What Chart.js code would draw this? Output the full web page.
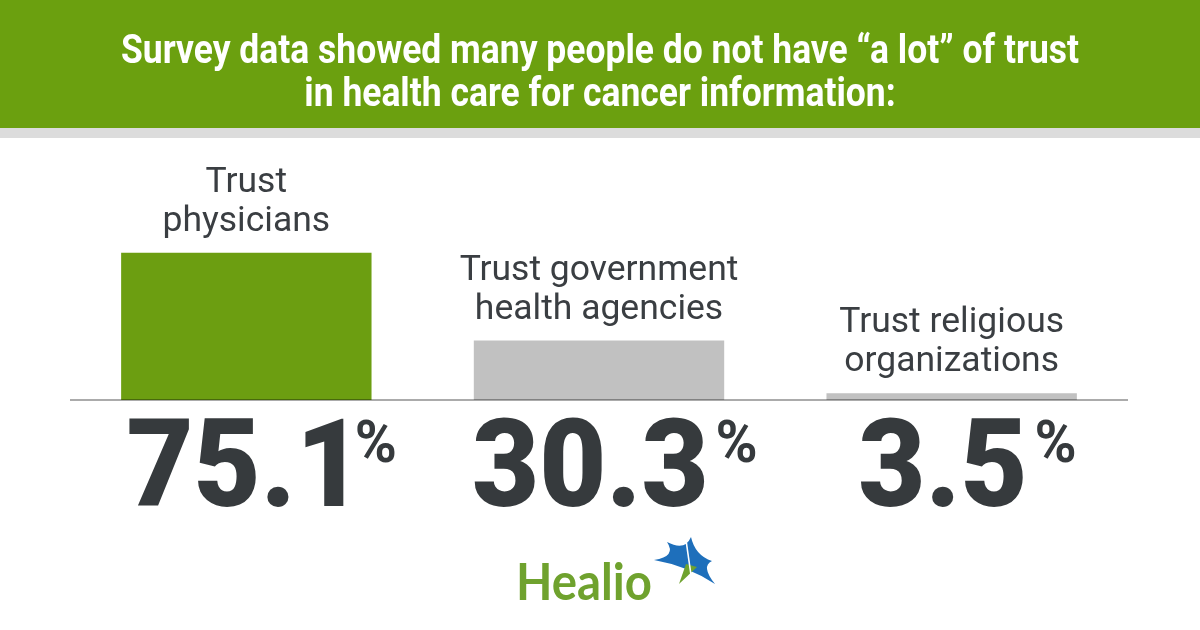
<!DOCTYPE html>
<html>
<head>
<meta charset="utf-8">
<script src="https://cdn.jsdelivr.net/npm/chart.js@4/dist/chart.umd.min.js"></script>
<style>
  html, body { margin: 0; padding: 0; background: #fff; }
  #wrap { width: 1200px; height: 630px; }
</style>
</head>
<body>
<div id="wrap"><canvas id="grafico" width="1200" height="630"></canvas></div>
<script>
// datos
const categorias = [["Trust", "physicians"], ["Trust government", "health agencies"], ["Trust religious", "organizations"]];
const valores = [75.1, 30.3, 3.5];
const titulo = ["Survey data showed many people do not have \u201ca lot\u201d of trust", "in health care for cancer information:"];

const VERDE = "#6c9e11";
const GRIS = "#c1c1c1";
const TEXTO = "#3a3e42";

const decoracion = {
  id: "decoracion",
  beforeDraw(chart) {
    const ctx = chart.ctx;
    ctx.save();
    ctx.fillStyle = "#fff";
    ctx.fillRect(0, 0, 1200, 630);
    // cabecera
    ctx.fillStyle = "#6ba00f";
    ctx.fillRect(0, 0, 1200, 128);
    ctx.fillStyle = "#dcdcdc";
    ctx.fillRect(0, 128, 1200, 10);
    ctx.fillStyle = "#fff";
    ctx.font = "bold 40px Roboto";
    ctx.textAlign = "center";
    const sx = 958 / ctx.measureText(titulo[0]).width;
    [63, 106].forEach((y, i) => {
      ctx.save();
      ctx.translate(600, y);
      ctx.scale(sx, 1);
      ctx.fillText(titulo[i], 0, 0);
      ctx.restore();
    });
    ctx.restore();
  },
  afterDatasetsDraw(chart) {
    const ctx = chart.ctx;
    const area = chart.chartArea;
    const y0 = chart.scales.y.getPixelForValue(0);
    const barras = chart.getDatasetMeta(0).data;
    ctx.save();
    // linea base
    ctx.strokeStyle = "rgba(0,0,0,0.33)";
    ctx.lineWidth = 2;
    ctx.beginPath();
    ctx.moveTo(area.left, y0);
    ctx.lineTo(area.right, y0);
    ctx.stroke();

    barras.forEach((bar, i) => {
      // etiquetas encima
      ctx.fillStyle = TEXTO;
      ctx.font = "35.5px Roboto";
      ctx.textAlign = "center";
      ctx.textBaseline = "alphabetic";
      const lineas = categorias[i];
      lineas.forEach((l, j) => {
        const y = bar.y - 22 - (lineas.length - 1 - j) * 39;
        ctx.fillText(l, bar.x, y);
      });
      // numero grande, centrado por la tinta
      const txt = valores[i].toFixed(1);
      ctx.save();
      ctx.translate(bar.x - 10, y0 + 106);
      ctx.scale(0.95, 1);
      ctx.font = "900 122px Roboto";
      ctx.textAlign = "left";
      ctx.fillStyle = "#363a3d";
      const m = ctx.measureText(txt);
      const x0 = (m.actualBoundingBoxLeft - m.actualBoundingBoxRight) / 2;
      ctx.fillText(txt, x0, 0);
      ctx.font = "bold 60px Roboto";
      ctx.fillText("%", x0 + m.actualBoundingBoxRight + 12, -44);
      ctx.restore();
    });

    // logo
    ctx.fillStyle = "#6fa22e";
    ctx.font = "bold 52px Lato";
    ctx.textAlign = "left";
    const lw = ctx.measureText("Healio").width;
    ctx.save();
    ctx.translate(516, 600);
    ctx.scale(136 / lw, 1);
    ctx.fillText("Healio", 0, 0);
    ctx.restore();
    // estrella
    const cx = 690, cy = 561;
    const puntas = [[654, 560], [667, 542], [691, 537], [712, 561], [715, 584]];
    ctx.fillStyle = "#1e6fbb";
    ctx.beginPath();
    ctx.moveTo(puntas[0][0], puntas[0][1]);
    for (let k = 1; k <= puntas.length; k++) {
      const p = puntas[k % puntas.length];
      const q = puntas[k - 1];
      const mx = (p[0] + q[0]) / 2, my = (p[1] + q[1]) / 2;
      ctx.quadraticCurveTo(cx + (mx - cx) * 0.45, cy + (my - cy) * 0.45, p[0], p[1]);
    }
    ctx.fill();
    ctx.fillStyle = "#6fa22e";
    ctx.beginPath();
    ctx.moveTo(cx - 4, cy + 3);
    ctx.lineTo(cx + 7, cy + 6);
    ctx.lineTo(679, 584);
    ctx.closePath();
    ctx.fill();
    ctx.strokeStyle = "#fff";
    ctx.lineWidth = 1.6;
    ctx.beginPath();
    ctx.moveTo(686, 540);
    ctx.lineTo(691, 575);
    ctx.stroke();
    ctx.restore();
  }
};

new Chart(document.getElementById("grafico"), {
  type: "bar",
  data: {
    labels: categorias.map(c => c.join(" ")),
    datasets: [{
      data: valores,
      backgroundColor: c => c.dataIndex === 0 ? VERDE : GRIS,
      borderWidth: 0,
      barPercentage: 0.71,
      categoryPercentage: 1
    }]
  },
  options: {
    responsive: false,
    animation: false,
    layout: { padding: { left: 70, right: 72, top: 204, bottom: 230 } },
    plugins: { legend: { display: false }, tooltip: { enabled: false } },
    scales: {
      x: { display: false },
      y: { display: false, min: 0, max: 100 }
    }
  },
  plugins: [decoracion]
});
</script>
</body>
</html>
